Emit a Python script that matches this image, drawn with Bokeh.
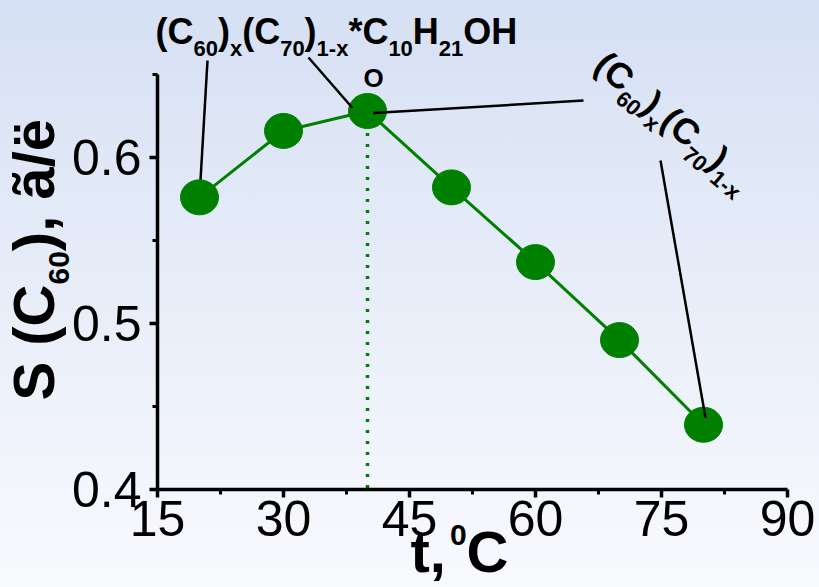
import math
from bokeh.plotting import figure
from bokeh.models import Label, FixedTicker, Range1d, LinearAxis
from bokeh.embed import file_html
from bokeh.resources import INLINE

# ---------------- data ----------------
t_c = [20, 30, 40, 50, 60, 70, 80]
s_c60 = [0.576, 0.616, 0.628, 0.582, 0.537, 0.490, 0.439]

x_ticks = [15, 30, 45, 60, 75, 90]
x_tick_labels = ["15", "30", "45", "60", "75", "90"]
x_minor = [22.5, 37.5, 52.5, 67.5, 82.5]
y_ticks = [0.4, 0.5, 0.6]
y_tick_labels = ["0.4", "0.5", "0.6"]
y_minor = [0.45, 0.55, 0.65]

X_MIN, X_MAX = 15, 90
Y_MIN, Y_MAX = 0.4, 0.65

GREEN = "#008000"
FONT = "Liberation Sans"

# ---------------- layout (canvas pixels) ----------------
W, H = 819, 587
AX_X0, AX_X1 = 157, 787     # pixel span of the x axis (15 .. 90)
AX_Y0, AX_Y1 = 74, 489      # pixel span of the y axis (0.65 .. 0.4)
SX = (AX_X1 - AX_X0) / (X_MAX - X_MIN)
SY = (AX_Y1 - AX_Y0) / (Y_MAX - Y_MIN)
BASE_FIX = 0.42             # label anchor -> alphabetic baseline correction (em)


def to_data(px, py):
    return X_MIN + (px - AX_X0) / SX, Y_MIN + (AX_Y1 - py) / SY


xr = Range1d(to_data(0, 0)[0], to_data(W, 0)[0])
yr = Range1d(to_data(0, H)[1], to_data(0, 0)[1])

p = figure(width=W, height=H, output_backend="svg", toolbar_location=None,
           x_range=xr, y_range=yr, x_axis_location=None, y_axis_location=None,
           min_border=0, min_border_left=0, min_border_right=0,
           min_border_top=0, min_border_bottom=0)
p.title.visible = False
p.background_fill_alpha = 0
p.border_fill_alpha = 0
p.outline_line_color = None
p.grid.visible = False

xa = LinearAxis(fixed_location=Y_MIN, bounds=(X_MIN, X_MAX),
                ticker=FixedTicker(ticks=x_ticks, minor_ticks=x_minor),
                major_label_overrides=dict(zip(x_ticks, x_tick_labels)))
ya = LinearAxis(fixed_location=X_MIN, bounds=(Y_MIN, Y_MAX),
                ticker=FixedTicker(ticks=y_ticks, minor_ticks=y_minor),
                major_label_overrides=dict(zip(y_ticks, y_tick_labels)))
for ax in (xa, ya):
    ax.axis_line_width = 3.5
    ax.axis_line_color = "black"
    ax.major_tick_line_width = 3.5
    ax.minor_tick_line_width = 3
    ax.major_tick_line_color = "black"
    ax.minor_tick_line_color = "black"
    ax.major_tick_in = 0
    ax.major_tick_out = 8
    ax.minor_tick_in = 0
    ax.minor_tick_out = 5
    ax.major_label_text_font = FONT
    ax.major_label_text_font_size = "50px"
    ax.major_label_text_color = "black"
xa.major_label_standoff = 3
ya.major_label_standoff = 8
p.add_layout(xa, "below")
p.add_layout(ya, "left")

# leader line to first point (below markers)
lx0, ly0 = to_data(207, 60)
p.segment(x0=[lx0], y0=[ly0], x1=[t_c[0]], y1=[s_c60[0]], line_color="black", line_width=2.5)

# dotted drop line from the maximum
p.segment(x0=[t_c[2]], y0=[s_c60[2]], x1=[t_c[2]], y1=[Y_MIN],
          line_color=GREEN, line_width=3.5, line_dash="3 8")

# data curve and markers
p.line(t_c, s_c60, line_color=GREEN, line_width=3)
p.ellipse(t_c, s_c60, width=38, height=35, width_units="screen", height_units="screen",
          fill_color=GREEN, line_color=GREEN)


def leader(start_px, idx, off_px):
    sx, sy = to_data(*start_px)
    ex = t_c[idx] + off_px[0] / SX
    ey = s_c60[idx] - off_px[1] / SY
    p.segment(x0=[sx], y0=[sy], x1=[ex], y1=[ey], line_color="black", line_width=2.5)


leader((308, 57), 2, (-15, -3))
leader((583, 100), 2, (6, 2))
leader((660, 160), 6, (2, -7))

# ---------------- rich text ----------------
ADV = {'(': .333, ')': .333, 'C': .722, 'H': .722, 'O': .778, 'S': .667, ' ': .278,
       ',': .278, 'x': .556, '*': .389, '-': .333, 't': .333, 'ã': .556, '/': .278,
       'ë': .556}
for d in "0123456789":
    ADV[d] = .556


def rich(x0, y0, pieces, cw_deg=0.0, style="bold"):
    phi = math.radians(cw_deg)
    ux, uy = math.cos(phi), math.sin(phi)
    dx, dy = -math.sin(phi), math.cos(phi)
    adv = 0.0
    for piece in pieces:
        text, size, shift = piece[:3]
        adv += piece[3] if len(piece) > 3 else 0
        s_eff = shift - BASE_FIX * size
        px = x0 + ux * adv + dx * s_eff
        py = y0 + uy * adv + dy * s_eff
        x, y = to_data(px, py)
        p.add_layout(Label(x=x, y=y, text=text, angle=-phi,
                           text_font=FONT, text_font_size=f"{size}px",
                           text_font_style=style, text_color="black",
                           text_align="left", text_baseline="alphabetic"))
        adv += sum(ADV.get(c, .556) for c in text) * size


# top annotation
rich(155, 46, [("(C", 36, 0), ("60", 22, 11), (")", 36, 0), ("x", 22, 11),
               ("(C", 36, 0), ("70", 22, 11), (")", 36, 0), ("1-x", 22, 11),
               ("*C", 36, 0), ("10", 22, 11), ("H", 36, 0), ("21", 22, 11),
               ("OH", 36, 0)])

# rotated annotation on the right
rich(590, 70, [("(C", 36, 0), ("60", 22, 10), (")", 36, 0), ("x", 22, 10),
               ("(C", 36, 0), ("70", 22, 10), (")", 36, 0), ("1-x", 22, 10)],
     cw_deg=40)

# marker of the maximum
ox, oy = to_data(373, 88 - BASE_FIX * 26)
p.add_layout(Label(x=ox, y=oy, text="O", text_font=FONT, text_font_size="26px",
                   text_font_style="bold", text_align="center",
                   text_baseline="alphabetic", text_color="black"))

# axis titles
rich(57, 400, [("S (C", 58, 0), ("60", 30, 14), ("), ã/ë", 58, 0)], cw_deg=-90)
rich(410, 575, [("t,", 58, 0), ("0", 30, -28, 4), ("C", 58, 0)])

html = file_html(p, INLINE, title="S(C60) vs t")
style = ("<style>html,body{margin:0;padding:0;overflow:hidden;}"
         "html{min-height:100%;background:linear-gradient(to bottom,"
         "#d6e0f4 0%,#e6ecf8 45%,#f9fafe 100%);}body{background:transparent;}</style>")
html = html.replace("</head>", style + "</head>", 1)
open("out.html", "w").write(html)
